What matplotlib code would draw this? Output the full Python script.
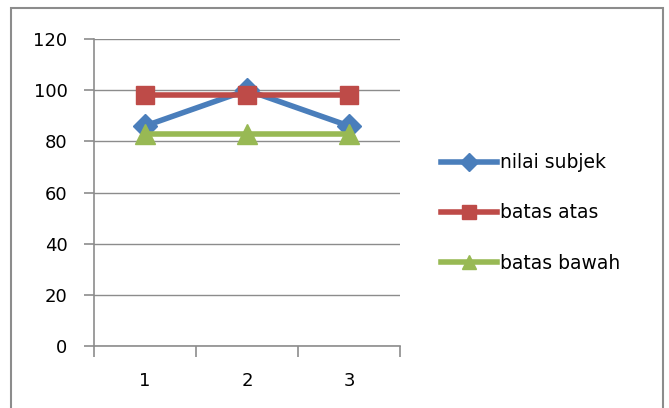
import matplotlib.pyplot as plt
from matplotlib.patches import Rectangle

categories = [1, 2, 3]
nilai_subjek = [86, 100, 86]
batas_atas = [98, 98, 98]
batas_bawah = [83, 83, 83]

W, H = 669, 408
fig = plt.figure(figsize=(W / 100, H / 100), dpi=100)
plt.rcParams['font.family'] = ['DejaVu Sans']

# outer chart frame (bottom edge runs off the image)
fig.patches.append(Rectangle((11 / W, -0.05), (663 - 11) / W, (H - 8) / H + 0.05,
                             transform=fig.transFigure, fill=False,
                             edgecolor='#8c8c8c', linewidth=1.5))

ax = fig.add_axes([94 / W, (H - 346) / H, (400 - 94) / W, (346 - 39) / H])

x = range(len(categories))
ax.plot(x, nilai_subjek, color='#4a7ebb', linewidth=4, marker='D',
        markersize=12, label='nilai subjek', zorder=3)
ax.plot(x, batas_atas, color='#be4b48', linewidth=4, marker='s',
        markersize=13, label='batas atas', zorder=4)
ax.plot(x, batas_bawah, color='#98b954', linewidth=4, marker='^',
        markersize=14, label='batas bawah', zorder=5)

ax.set_xlim(-0.5, 2.5)
ax.set_ylim(0, 120)
ax.set_yticks(range(0, 121, 20))
ax.set_xticks(list(x))
ax.set_xticklabels([str(c) for c in categories])
ax.set_xticks([-0.5, 0.5, 1.5, 2.5], minor=True)
ax.grid(axis='y', color='#8c8c8c', linewidth=1)
ax.set_axisbelow(True)

for side in ['top', 'right']:
    ax.spines[side].set_visible(False)
for side in ['left', 'bottom']:
    ax.spines[side].set_color('#8c8c8c')
    ax.spines[side].set_linewidth(1.2)

ax.tick_params(axis='y', length=7, color='#8c8c8c', width=1.2, labelsize=13, pad=12)
ax.tick_params(axis='x', which='major', length=0, labelsize=13, pad=19)
ax.tick_params(axis='x', which='minor', length=8, color='#8c8c8c', width=1.2)

ax.legend(loc='center left', bbox_to_anchor=(424 / W, (H - 213) / H),
          bbox_transform=fig.transFigure, frameon=False, fontsize=13.5,
          handlelength=3.0, handletextpad=0.15, labelspacing=1.67, markerscale=0.75)

fig.savefig('out.png', dpi=100, facecolor='white')
